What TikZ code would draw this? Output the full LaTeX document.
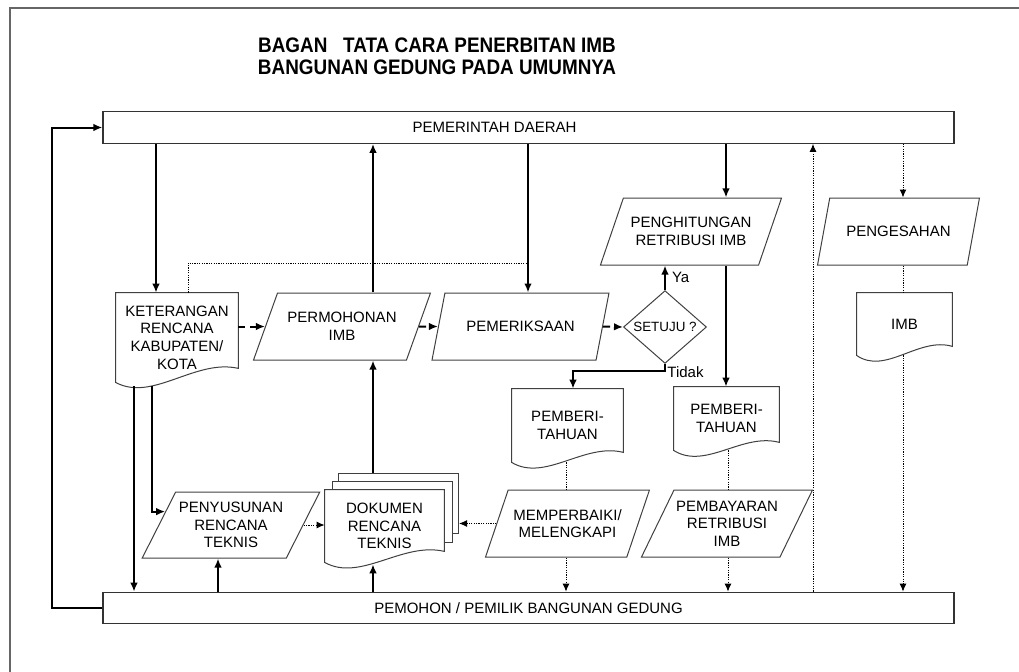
\documentclass[tikz,border=0pt]{standalone}
\usepackage{fontspec}
\setmainfont{Liberation Sans}
\usetikzlibrary{shapes.geometric, arrows.meta, positioning, calc, backgrounds}
\tikzset{
    bar/.style={rectangle, draw=black!80, line width=0.6pt, minimum width=425.5pt, minimum height=15.75pt, font=\fontsize{7.5}{9}\selectfont},
    para/.style={trapezium, trapezium left angle=56.7, trapezium right angle=123.3, trapezium stretches=true, draw=black!75, line width=0.5pt, inner sep=1pt, align=center, font=\fontsize{7.5}{8.8}\selectfont},
    doc/.style={rectangle, inner sep=1pt, align=center, font=\fontsize{7.5}{8.8}\selectfont},
    sheet/.style={rectangle, draw=black!75, line width=0.5pt, fill=white, minimum width=60pt},
    keputusan/.style={diamond, draw=black!75, line width=0.5pt, inner sep=0pt, minimum width=41.5pt, minimum height=31.5pt, font=\fontsize{6.7}{8}\selectfont},
    garis/.style={draw=black!75, line width=0.5pt, fill=white},
    cabang/.style={font=\fontsize{7.5}{9}\selectfont, inner sep=1pt},
    panah/.style={line width=1pt, -{Latex[length=4.5pt,width=3.8pt]}},
    panah_putus/.style={line width=1pt, dash pattern=on 3.5pt off 2.5pt, -{Latex[length=4.5pt,width=3.8pt]}},
    panah_titik/.style={line width=0.5pt, dash pattern=on 0.6pt off 0.6pt, -{Latex[length=4pt,width=3.5pt]}},
    titik/.style={line width=0.5pt, dash pattern=on 0.6pt off 0.6pt}
}
% garis bawah bergelombang untuk simbol dokumen
\newcommand{\dokumen}[2]{%
  \begin{scope}[on background layer]
    \draw[garis] (#1.north west) -- (#1.north east) -- ($(#1.south east)+(0,#2)$)
      .. controls ($(#1.south west)!0.65!(#1.south east)+(0,#2+10)$) and ($(#1.south west)!0.3!(#1.south east)+(0,-20)$) .. (#1.south west) -- cycle;
  \end{scope}}

\begin{document}
\begin{tikzpicture}[x=0.5pt, y=0.5pt]
    \useasboundingbox (0,0) rectangle (1019,-671);

    % Bingkai
    \draw[line width=0.8pt, draw=black!60] (10,-680) -- (10,-8) -- (1030,-8);

    % Judul
    \node[font=\bfseries\fontsize{10.5}{11}\selectfont, inner sep=0pt] (judul) at (437,-59) {\scalebox{0.9}[1]{\begin{tabular}{@{}c@{}}BAGAN\ \ \ TATA CARA PENERBITAN IMB\\BANGUNAN GEDUNG PADA UMUMNYA\end{tabular}}};

    % Pelaku (atas dan bawah)
    \node[bar] (pemda) at (528.5,-127.5) {PEMERINTAH DAERAH\hspace*{34pt}};
    \node[bar] (pemohon) at (528.5,-608) {PEMOHON / PEMILIK BANGUNAN GEDUNG};

    % Dokumen
    \node[doc, minimum width=61pt, minimum height=44.5pt] (keterangan) at (177,-337.5) {KETERANGAN\\RENCANA\\KABUPATEN/\\KOTA};
    \node[doc, minimum width=55.5pt, minimum height=36.5pt] (beri_tolak) at (567.5,-425.5) {PEMBERI-\\TAHUAN};
    \node[doc, minimum width=52.5pt, minimum height=31.5pt] (beri_bayar) at (726.5,-418.5) {PEMBERI-\\TAHUAN};
    \node[doc, minimum width=47.5pt, minimum height=31pt] (imb) at (904.5,-324) {IMB};
    \node[doc, minimum width=59.5pt, minimum height=36pt] (dokumen) at (384.5,-526) {DOKUMEN\\RENCANA\\TEKNIS};

    % Proses
    \node[para, minimum width=89pt, minimum height=33.5pt] (permohonan) at (342,-326.5) {PERMOHONAN\\IMB};
    \node[para, minimum width=88.5pt, minimum height=33.5pt] (pemeriksaan) at (520.5,-326.5) {PEMERIKSAAN};
    \node[para, minimum width=91pt, minimum height=33.5pt] (penghitungan) at (691,-231.5) {PENGHITUNGAN\\RETRIBUSI IMB};
    \node[para, minimum width=81.5pt, minimum height=33.5pt] (pengesahan) at (898.5,-231.5) {PENGESAHAN};
    \node[para, minimum width=89pt, minimum height=33pt] (penyusunan) at (231,-525) {PENYUSUNAN\\RENCANA\\TEKNIS};
    \node[para, minimum width=82.5pt, minimum height=33.5pt] (perbaikan) at (567.5,-523.5) {MEMPERBAIKI/\\MELENGKAPI};
    \node[para, minimum width=80pt, minimum height=33.5pt] (pembayaran) at (727,-523.5) {PEMBAYARAN\\RETRIBUSI\\IMB};

    % Keputusan
    \node[keputusan] (setuju) at (665,-327) {SETUJU ?};

    % Lembar dokumen bertumpuk
    \begin{scope}[on background layer]
        \node[sheet, minimum height=30pt] (dok3) at ($(dokumen)+(14,23)$) {};
        \node[sheet, minimum height=30.5pt] (dok2) at ($(dokumen)+(7.5,14.5)$) {};
    \end{scope}
    \dokumen{dokumen}{11}
    \dokumen{keterangan}{14}
    \dokumen{beri_tolak}{10}
    \dokumen{beri_bayar}{8}
    \dokumen{imb}{9}

    % Titik bantu jalur
    \coordinate (kl) at (52,-360);
    \coordinate (ka) at (134,0);
    \coordinate (kb) at (152,0);
    \coordinate (kc) at (156,0);
    \coordinate (kd) at (188,-263);
    \coordinate (ke) at (218,0);
    \coordinate (km) at (373,0);
    \coordinate (kp) at (528,0);
    \coordinate (kq) at (566,0);
    \coordinate (kt) at (573,-371);
    \coordinate (kh) at (726,0);
    \coordinate (kr) at (728,0);
    \coordinate (kv) at (813,0);
    \coordinate (ks) at (903,0);

    % Alur utama
    \draw[panah] (pemohon.west) -| (kl) |- (pemda.west);
    \draw[panah] (pemda.south -| kc) -- (keterangan.north -| kc);
    \draw[titik] (keterangan.north -| kd) -- (kd) -- (kd -| kp);
    \draw[panah] (permohonan.north -| km) -- (pemda.south -| km);
    \draw[panah] (dok3.north -| km) -- (permohonan.south -| km);
    \draw[panah] (pemda.south -| kp) -- (pemeriksaan.north -| kp);
    \draw[panah] (pemda.south -| kh) -- (penghitungan.north -| kh);
    \draw[panah] (penghitungan.south -| kh) -- (beri_bayar.north -| kh);
    \draw[panah_putus] (keterangan.east |- permohonan.west) -- (permohonan.west);
    \draw[panah_putus] (permohonan.east) -- (pemeriksaan.west);
    \draw[panah_putus] (pemeriksaan.east) -- (setuju.west);
    \draw[panah] (setuju.north) -- (penghitungan.south -| setuju.north) node[cabang, pos=0.5, right, xshift=2pt] {Ya};
    \draw[panah] (setuju.south) |- (kt) -- (beri_tolak.north -| kt);
    \node[cabang, anchor=north west] (tidak) at (setuju.south) {Tidak};

    % Alur pemohon
    \draw[panah] ($(keterangan.south -| ka)+(0,-4)$) -- (pemohon.north -| ka);
    \draw[panah] ($(keterangan.south -| kb)+(0,-4)$) |- ($(penyusunan.top left corner)!0.3!(penyusunan.bottom left corner)$);
    \draw[panah] (pemohon.north -| ke) -- (penyusunan.south -| ke);
    \draw[panah_titik] (penyusunan.east) -- (dokumen.west |- penyusunan.east);
    \draw[panah] (pemohon.north -| km) -- ($(dokumen.south -| km)+(0,-2)$);
    \draw[panah_titik] (perbaikan.west) -- (dok3.east |- perbaikan.west);
    \draw[titik] (beri_tolak.south -| kq) -- (perbaikan.north -| kq);
    \draw[panah_titik] (perbaikan.south -| kq) -- (pemohon.north -| kq);
    \draw[titik] (beri_bayar.south -| kr) -- (pembayaran.north -| kr);
    \draw[panah_titik] (pembayaran.south -| kr) -- (pemohon.north -| kr);

    % Pengesahan
    \draw[panah_titik] (pemohon.north -| kv) -- (pemda.south -| kv);
    \draw[panah_titik] (pemda.south -| ks) -- (pengesahan.north -| ks);
    \draw[titik] (pengesahan.south -| ks) -- (imb.north -| ks);
    \draw[panah_titik] (imb.south -| ks) -- (pemohon.north -| ks);

\end{tikzpicture}
\end{document}
